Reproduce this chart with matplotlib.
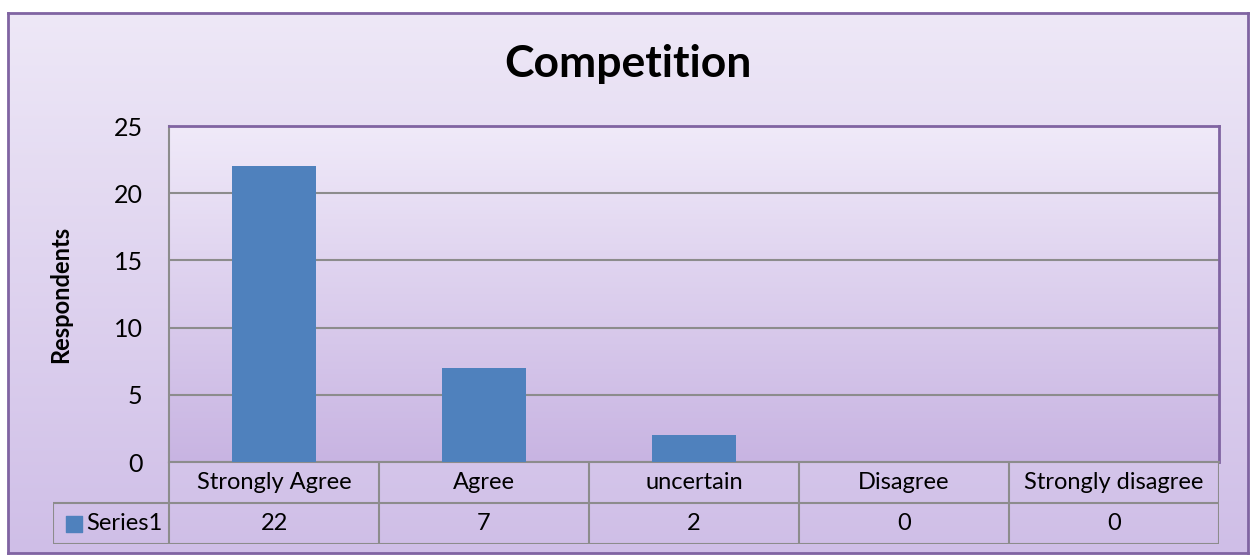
import numpy as np
import matplotlib
matplotlib.use("Agg")
import matplotlib.pyplot as plt
from matplotlib.colors import LinearSegmentedColormap

categories = ["Strongly Agree", "Agree", "uncertain", "Disagree", "Strongly disagree"]
series_name = "Series1"
values = [22, 7, 2, 0, 0]
yticks = [0, 5, 10, 15, 20, 25]

plt.rcParams["font.family"] = ["Lato", "DejaVu Sans"]

W, H = 1250, 555
fig = plt.figure(figsize=(W / 100, H / 100), dpi=100)
fig.patch.set_facecolor("white")

purple = "#8064A2"
grid_gray = "#8C8C8C"
bar_blue = "#4F81BD"

outer_cmap = LinearSegmentedColormap.from_list("outer", ["#EEE8F7", "#CFBEE7"])
plot_cmap = LinearSegmentedColormap.from_list("plot", ["#F0EAF9", "#C8B4E2"])
grad = np.linspace(0, 1, 256).reshape(-1, 1)

# outer chart area
bg = fig.add_axes([8 / W, 1 - 553 / H, 1240 / W, 540 / H])
bg.imshow(grad, cmap=outer_cmap, aspect="auto", extent=[0, 1, 0, 1], origin="upper")
bg.set_xticks([])
bg.set_yticks([])
for s in bg.spines.values():
    s.set_color(purple)
    s.set_linewidth(2)

# plot area
left, right, top, bottom = 169, 1219, 126, 462
ax = fig.add_axes([left / W, 1 - bottom / H, (right - left) / W, (bottom - top) / H])
ax.imshow(grad, cmap=plot_cmap, aspect="auto", extent=[0, 1, 0, 1],
          transform=ax.transAxes, origin="upper", zorder=0)

x = np.arange(len(categories))
ax.bar(x, values, width=0.4, color=bar_blue, zorder=3)
ax.set_xlim(-0.5, len(categories) - 0.5)
ax.set_ylim(0, 25)
ax.set_yticks(yticks)
ax.set_yticklabels([str(t) for t in yticks], fontsize=18)
ax.set_xticks([])
ax.tick_params(axis="y", length=0, pad=19)
ax.yaxis.grid(True, color=grid_gray, linewidth=1.5, zorder=1)
ax.set_axisbelow(True)
for side in ["top", "right"]:
    ax.spines[side].set_color(purple)
    ax.spines[side].set_linewidth(2)
for side in ["left", "bottom"]:
    ax.spines[side].set_color(grid_gray)
    ax.spines[side].set_linewidth(1.5)

ax.set_ylabel("Respondents", fontsize=17, fontweight="bold", labelpad=30)

fig.text(628 / W, 1 - 64 / H, "Competition",
         fontsize=32, fontweight="bold", ha="center", va="center")

# data table below the plot
col_w = (right - left) / len(categories)
label_w = (left - 53) / col_w          # label column width in category units
tbl_bottom = 544
tax = fig.add_axes([53 / W, 1 - tbl_bottom / H, (right - 53) / W, (tbl_bottom - bottom) / H])
tax.set_xlim(-0.5 - label_w, len(categories) - 0.5)
tax.set_ylim(0, 2)
tax.axis("off")
edges = np.arange(len(categories) + 1) - 0.5
tax.vlines(edges, 0, 2, color=grid_gray, linewidth=1.5)
tax.vlines([-0.5 - label_w], 0, 1, color=grid_gray, linewidth=1.5)
tax.hlines([0, 1], -0.5 - label_w, edges[-1], color=grid_gray, linewidth=1.5)
for i, (cat, v) in enumerate(zip(categories, values)):
    tax.text(i, 1.5, cat, ha="center", va="center", fontsize=17)
    tax.text(i, 0.5, str(v), ha="center", va="center", fontsize=17)
tax.scatter([-0.5 - label_w + 0.1], [0.5], marker="s", s=130, color=bar_blue, clip_on=False)
tax.text(-0.5 - label_w + 0.16, 0.5, series_name, ha="left", va="center", fontsize=17)

fig.savefig("out.png", dpi=100)
